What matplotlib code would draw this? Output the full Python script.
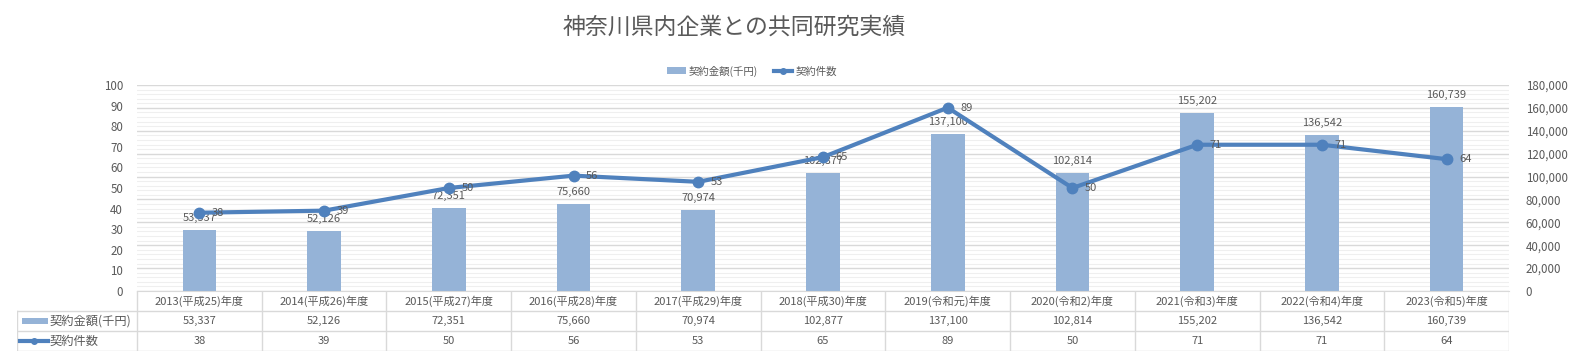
import matplotlib
matplotlib.use("Agg")
import matplotlib.pyplot as plt
from matplotlib.lines import Line2D
from matplotlib.patches import Patch, Rectangle
from matplotlib.ticker import MultipleLocator, FuncFormatter

plt.rcParams['font.family'] = ['Noto Sans CJK JP', 'DejaVu Sans']

categories = ["2013(平成25)年度", "2014(平成26)年度", "2015(平成27)年度", "2016(平成28)年度",
              "2017(平成29)年度", "2018(平成30)年度", "2019(令和元)年度", "2020(令和2)年度",
              "2021(令和3)年度", "2022(令和4)年度", "2023(令和5)年度"]
amounts = [53337, 52126, 72351, 75660, 70974, 102877, 137100, 102814, 155202, 136542, 160739]
counts = [38, 39, 50, 56, 53, 65, 89, 50, 71, 71, 64]
series_names = ["契約金額(千円)", "契約件数"]
title = "神奈川県内企業との共同研究実績"

BAR = "#95B3D7"
LINE = "#4F81BD"
TXT = "#595959"
GRID = "#D9D9D9"
MINOR = "#EFEFEF"

W, H = 1569, 357
fig = plt.figure(figsize=(W / 100, H / 100), dpi=100)

px_l, px_r, px_t, px_b = 137, 1509, 85, 291
ax = fig.add_axes([px_l / W, 1 - px_b / H, (px_r - px_l) / W, (px_b - px_t) / H])
n = len(categories)
x = list(range(n))

# bars on right-hand axis
ax.bar(x, amounts, width=0.27, color=BAR, zorder=2)
ax.set_ylim(0, 180000)
ax.set_xlim(-0.5, n - 0.5)
ax.yaxis.set_major_locator(MultipleLocator(20000))
ax.yaxis.set_minor_locator(MultipleLocator(4000))
ax.yaxis.set_major_formatter(FuncFormatter(lambda v, p: f"{int(v):,}"))
ax.grid(axis='y', which='major', color=GRID, lw=1.0, zorder=0)
ax.grid(axis='y', which='minor', color=MINOR, lw=0.8, zorder=0)
ax.set_axisbelow(True)
for s in ['top', 'left', 'right']:
    ax.spines[s].set_visible(False)
ax.spines['bottom'].set_color(GRID)
for xi, v in zip(x, amounts):
    ax.annotate(f"{v:,}", (xi, v), xytext=(0, 5), textcoords='offset points',
                ha='center', va='bottom', fontsize=8, color=TXT, zorder=5)

# line on left axis
ax2 = ax.twinx()
ax2.plot(x, counts, color=LINE, lw=3, marker='o', ms=7.5, zorder=3)
ax2.set_ylim(0, 100)
ax2.yaxis.set_major_locator(MultipleLocator(10))
for s in ax2.spines.values():
    s.set_visible(False)
for xi, v in zip(x, counts):
    ax2.annotate(f"{v}", (xi, v), xytext=(9, 0), textcoords='offset points',
                 ha='left', va='center', fontsize=8, color=TXT, zorder=5)

# tick sides
ax.yaxis.tick_right()
ax2.yaxis.tick_left()
ax.tick_params(axis='y', which='both', length=0, labelsize=8.3, labelcolor=TXT, pad=12,
               left=False, labelleft=False, right=False, labelright=True)
ax.tick_params(axis='x', which='both', length=0, labelbottom=False)
ax2.tick_params(axis='y', length=0, labelsize=8.3, labelcolor=TXT, pad=10,
                right=False, labelright=False, left=False, labelleft=True)

# title & legend
fig.text(734 / W, 1 - 27 / H, title, ha='center', va='center', fontsize=16.5, color=TXT)
handles = [Patch(facecolor=BAR, edgecolor='none'),
           Line2D([0], [0], color=LINE, lw=3, marker='o', ms=4)]
fig.legend(handles, series_names, loc='center', bbox_to_anchor=(752 / W, 1 - 71 / H),
           ncol=2, frameon=False, fontsize=7.5, labelcolor=TXT, handlelength=1.8,
           handletextpad=0.3, columnspacing=1.5)

# data table
cw = (px_r - px_l) / n
tab_l = 17
lw_u = (px_l - tab_l) / cw
tax = fig.add_axes([tab_l / W, 1 - 351 / H, (px_r - tab_l) / W, 60 / H])
tax.set_xlim(-0.5 - lw_u, n - 0.5)
tax.set_ylim(3, 0)
tax.axis('off')
bc = "#D9D9D9"
for i in range(n + 1):
    tax.plot([i - 0.5, i - 0.5], [0, 3], color=bc, lw=1)
tax.plot([-0.5 - lw_u] * 2, [1, 3], color=bc, lw=1)
for yy in (1, 2, 3):
    tax.plot([-0.5 - lw_u, n - 0.5], [yy, yy], color=bc, lw=1)
for i in range(n):
    tax.text(i, 0.5, categories[i], ha='center', va='center', fontsize=8, color=TXT)
    tax.text(i, 1.5, f"{amounts[i]:,}", ha='center', va='center', fontsize=8, color=TXT)
    tax.text(i, 2.5, f"{counts[i]}", ha='center', va='center', fontsize=8, color=TXT)

def pxu(p):
    return (p - px_l) / cw - 0.5

tax.add_patch(Rectangle((pxu(22), 1.33), pxu(48) - pxu(22), 0.34, color=BAR, lw=0))
tax.plot([pxu(20), pxu(48)], [2.5, 2.5], color=LINE, lw=3)
tax.plot([pxu(34)], [2.5], marker='o', ms=4, color=LINE)
tax.text(pxu(50), 1.5, series_names[0], ha='left', va='center', fontsize=8.8, color=TXT)
tax.text(pxu(50), 2.5, series_names[1], ha='left', va='center', fontsize=8.8, color=TXT)

fig.savefig("out.png", dpi=100, facecolor='white')
